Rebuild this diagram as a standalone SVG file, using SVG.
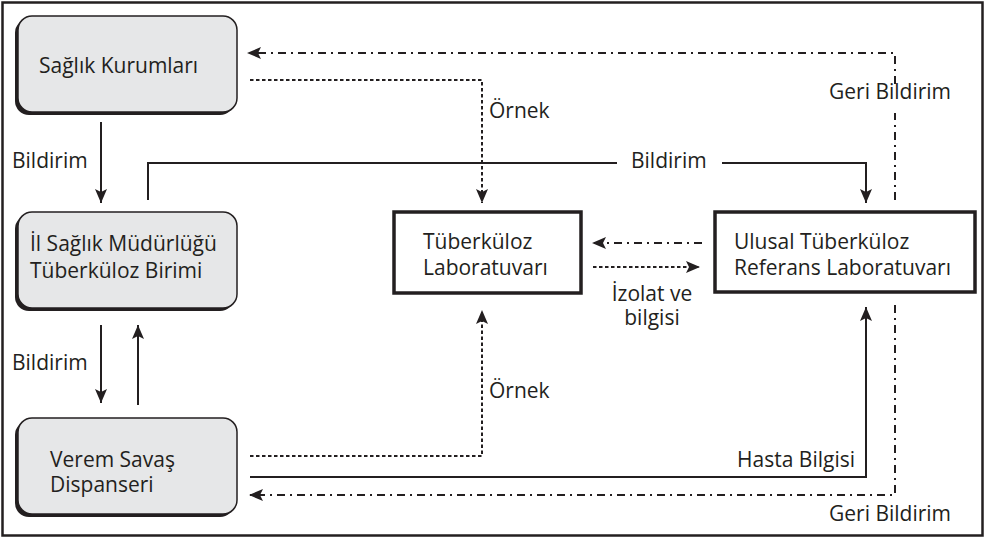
<svg xmlns="http://www.w3.org/2000/svg" width="985" height="538" viewBox="0 0 985 538">
<style>
  text { font-family: "Open Sans", "DejaVu Sans", sans-serif; font-size: 21px; fill: #231f20; }
  .shadow { fill: #231f20; }
  .rbox { fill: #e6e7e8; stroke: #231f20; stroke-width: 1.5; }
  .lab { fill: #ffffff; stroke: #231f20; stroke-width: 3.5; }
  .solid { fill: none; stroke: #231f20; stroke-width: 2; }
  .dot { fill: none; stroke: #231f20; stroke-width: 2; stroke-dasharray: 3.5 2.5; }
  .dashdot { fill: none; stroke: #231f20; stroke-width: 2; stroke-dasharray: 8 5 2 5; }
  .frame { fill: none; stroke: #231f20; stroke-width: 2.5; }
</style>
<defs>
  <marker id="arr" markerUnits="userSpaceOnUse" viewBox="0 0 14 12" markerWidth="14" markerHeight="12" refX="14" refY="6" orient="auto">
    <path d="M0,0 L14,6 L0,12 L3,6 z" fill="#231f20"/>
  </marker>
</defs>
<rect class="frame" x="2.5" y="2.5" width="980" height="533"/>

<g id="connectors">
  <path class="solid" d="M101,122 V203" marker-end="url(#arr)"/>
  <path class="solid" d="M148,200 V163 H617"/>
  <path class="solid" d="M722,163 H866 V203" marker-end="url(#arr)"/>
  <path class="solid" d="M101,325 V403" marker-end="url(#arr)"/>
  <path class="solid" d="M138,405 V325" marker-end="url(#arr)"/>
  <path class="dot" d="M250,80 H482 V203" marker-end="url(#arr)"/>
  <path class="dashdot" d="M895,200 V113"/>
  <path class="dashdot" d="M895,84 V53 H247" marker-end="url(#arr)"/>
  <path class="dashdot" d="M702,243 H592" marker-end="url(#arr)"/>
  <path class="dot" d="M593,267 H700" marker-end="url(#arr)"/>
  <path class="dot" d="M250,456 H482 V310" marker-end="url(#arr)"/>
  <path class="solid" d="M250,477 H866 V307" marker-end="url(#arr)"/>
  <path class="dashdot" d="M895,305 V495 H249" marker-end="url(#arr)"/>
  <text x="12" y="168">Bildirim</text>
  <text x="631" y="168">Bildirim</text>
  <text x="489" y="118">Örnek</text>
  <text x="829" y="99">Geri Bildirim</text>
  <text x="652" y="301" text-anchor="middle">İzolat ve</text>
  <text x="652" y="325" text-anchor="middle">bilgisi</text>
  <text x="12" y="370">Bildirim</text>
  <text x="489" y="398">Örnek</text>
  <text x="855" y="467" text-anchor="end">Hasta Bilgisi</text>
  <text x="829" y="521">Geri Bildirim</text>
</g>

<g id="saglik-kurumlari">
  <rect class="shadow" x="15" y="19" width="219" height="96" rx="14"/>
  <rect class="rbox" x="18" y="16" width="219" height="96" rx="14"/>
  <text x="39" y="73">Sağlık Kurumları</text>
</g>

<g id="il-saglik">
  <rect class="shadow" x="15" y="215" width="219" height="96" rx="14"/>
  <rect class="rbox" x="18" y="212" width="219" height="96" rx="14"/>
  <text x="30" y="251">İl Sağlık Müdürlüğü</text>
  <text x="30" y="278">Tüberküloz Birimi</text>
</g>

<g id="verem-savas">
  <rect class="shadow" x="15" y="421" width="219" height="96" rx="14"/>
  <rect class="rbox" x="18" y="418" width="219" height="96" rx="14"/>
  <text x="50" y="467">Verem Savaş</text>
  <text x="50" y="492">Dispanseri</text>
</g>

<g id="tb-lab">
  <rect class="lab" x="394" y="212" width="187" height="81"/>
  <text x="423" y="249">Tüberküloz</text>
  <text x="423" y="275">Laboratuvarı</text>
</g>

<g id="ulusal-lab">
  <rect class="lab" x="715" y="212" width="260" height="80"/>
  <text x="734" y="249">Ulusal Tüberküloz</text>
  <text x="734" y="275">Referans Laboratuvarı</text>
</g>
</svg>
